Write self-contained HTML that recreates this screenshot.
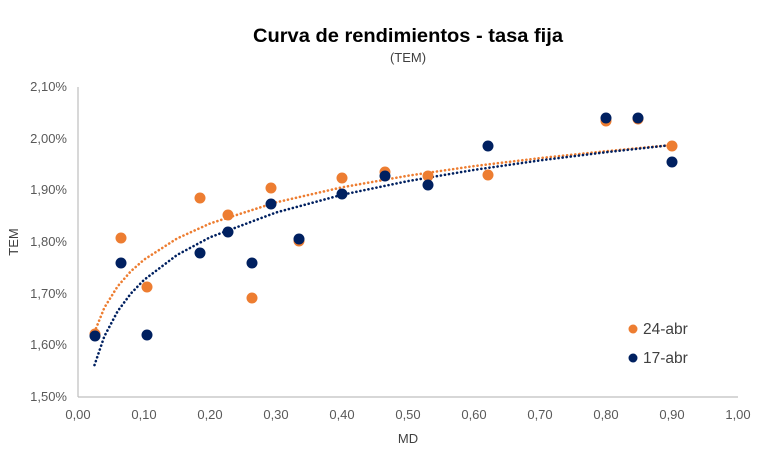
<!DOCTYPE html>
<html><head><meta charset="utf-8"><style>
body{margin:0;background:#fff;}
svg{display:block;font-family:"Liberation Sans",sans-serif;}
</style></head><body>
<svg width="772" height="451" viewBox="0 0 772 451">
<rect width="772" height="451" fill="#fff"/>
<text x="408" y="42" text-anchor="middle" font-size="19" font-weight="bold" fill="#000" textLength="310" lengthAdjust="spacingAndGlyphs">Curva de rendimientos - tasa fija</text>
<text x="408" y="62" text-anchor="middle" font-size="13" fill="#404040">(TEM)</text>
<g stroke="#bfbfbf" stroke-width="1.2">
<line x1="78" y1="87" x2="78" y2="397"/>
<line x1="78" y1="397" x2="738" y2="397"/>
</g>
<g font-size="13" fill="#595959" text-anchor="end">
<text x="67" y="91">2,10%</text>
<text x="67" y="143">2,00%</text>
<text x="67" y="194">1,90%</text>
<text x="67" y="246">1,80%</text>
<text x="67" y="298">1,70%</text>
<text x="67" y="349">1,60%</text>
<text x="67" y="401">1,50%</text>
</g>
<g font-size="13" fill="#595959" text-anchor="middle">
<text x="78" y="419">0,00</text><text x="144" y="419">0,10</text><text x="210" y="419">0,20</text>
<text x="276" y="419">0,30</text><text x="342" y="419">0,40</text><text x="408" y="419">0,50</text>
<text x="474" y="419">0,60</text><text x="540" y="419">0,70</text><text x="606" y="419">0,80</text>
<text x="672" y="419">0,90</text><text x="738" y="419">1,00</text>
</g>
<text x="408" y="443" text-anchor="middle" font-size="13" fill="#404040">MD</text>
<text transform="translate(18,242) rotate(-90)" text-anchor="middle" font-size="13" fill="#404040">TEM</text>
<polyline fill="none" stroke="#ed7d31" stroke-width="2.6" stroke-dasharray="0.1 4" stroke-linecap="round"
points="94.5,332.1 104.4,307.6 117.6,286.4 130.8,271.3 144,259.7 177,238.5 210,223.5 276,202.4 342,187.3 408,175.7 474,166.1 540,158.1 606,151.2 672,145"/>
<polyline fill="none" stroke="#002060" stroke-width="2.6" stroke-dasharray="0.1 4" stroke-linecap="round"
points="94.5,365.1 104.4,336.2 117.6,311.3 130.8,293.6 144,279.9 177,255 210,237.3 276,212.5 342,194.8 408,181.1 474,169.9 540,160.4 606,152.2 672,145"/>
<g fill="#ed7d31">
<circle cx="95" cy="334" r="5.5"/><circle cx="121" cy="238" r="5.5"/><circle cx="147" cy="287" r="5.5"/>
<circle cx="200" cy="198" r="5.5"/><circle cx="228" cy="215" r="5.5"/><circle cx="252" cy="298" r="5.5"/>
<circle cx="271" cy="188" r="5.5"/><circle cx="299" cy="241" r="5.5"/><circle cx="342" cy="178" r="5.5"/>
<circle cx="385" cy="172" r="5.5"/><circle cx="428" cy="176" r="5.5"/><circle cx="488" cy="175" r="5.5"/>
<circle cx="606" cy="121" r="5.5"/><circle cx="638" cy="119" r="5.5"/><circle cx="672" cy="146" r="5.5"/>
</g>
<g fill="#002060">
<circle cx="95" cy="336" r="5.5"/><circle cx="121" cy="263" r="5.5"/><circle cx="147" cy="335" r="5.5"/>
<circle cx="200" cy="253" r="5.5"/><circle cx="228" cy="232" r="5.5"/><circle cx="252" cy="263" r="5.5"/>
<circle cx="271" cy="204" r="5.5"/><circle cx="299" cy="239" r="5.5"/><circle cx="342" cy="194" r="5.5"/>
<circle cx="385" cy="176" r="5.5"/><circle cx="428" cy="185" r="5.5"/><circle cx="488" cy="146" r="5.5"/>
<circle cx="606" cy="118" r="5.5"/><circle cx="638" cy="118" r="5.5"/><circle cx="672" cy="162" r="5.5"/>
</g>
<circle cx="633" cy="329" r="4.5" fill="#ed7d31"/>
<text x="643" y="334" font-size="15.5" fill="#404040">24-abr</text>
<circle cx="633" cy="358" r="4.5" fill="#002060"/>
<text x="643" y="363" font-size="15.5" fill="#404040">17-abr</text>
</svg>
</body></html>
